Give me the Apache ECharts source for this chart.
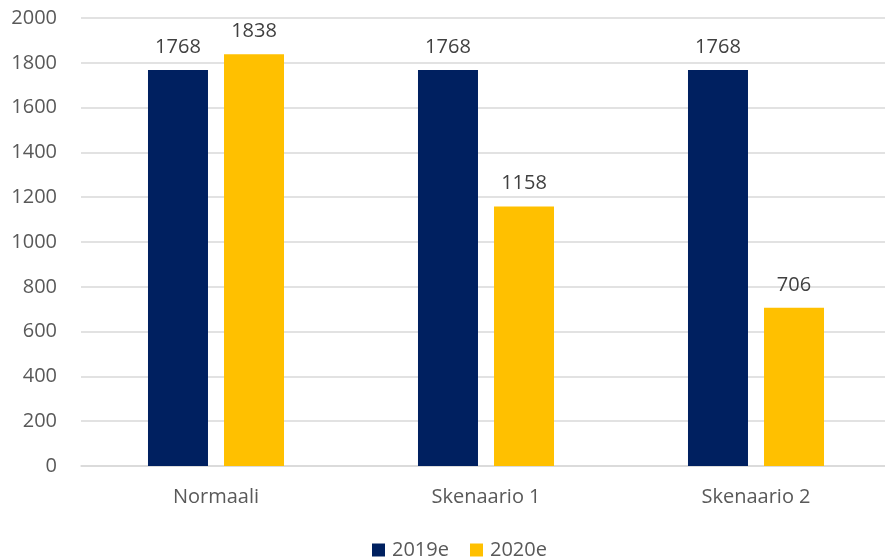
<!DOCTYPE html>
<html><head><meta charset="utf-8">
<script src="https://cdn.jsdelivr.net/npm/echarts@6/dist/echarts.min.js"></script>
<style>html,body{margin:0;padding:0;background:#fff;overflow:hidden}#c{width:885px;height:558px}</style>
</head><body><div id="c"></div>
<script>
const categories = ['Normaali', 'Skenaario 1', 'Skenaario 2'];
const s2019 = [1768, 1768, 1768];
const s2020 = [1838, 1158, 706];
const seriesNames = ['2019e', '2020e'];
const font = '"Open Sans", sans-serif';
const chart = echarts.init(document.getElementById('c'));
chart.setOption({
  animation: false,
  textStyle: { fontFamily: font },
  grid: { left: 81, width: 810, top: 18, height: 448, containLabel: false, outerBoundsMode: 'none' },
  legend: {
    top: 540, left: 372, padding: 0, itemWidth: 13, itemHeight: 13, itemGap: 21,
    icon: 'rect',
    textStyle: { color: '#595959', fontSize: 20, lineHeight: 20, fontFamily: font, padding: [0, 0, 0, 2] },
    data: seriesNames
  },
  xAxis: {
    type: 'category', data: categories,
    axisLine: { show: true, lineStyle: { color: '#d9d9d9', width: 1.5 } },
    axisTick: { show: false },
    axisLabel: { color: '#595959', fontSize: 20, margin: 21, fontFamily: font }
  },
  yAxis: {
    type: 'value', min: 0, max: 2000, interval: 200,
    axisLine: { show: false }, axisTick: { show: false },
    axisLabel: { color: '#595959', fontSize: 20, margin: 24, fontFamily: font, formatter: v => String(v) },
    splitLine: { lineStyle: { color: '#d9d9d9', width: 1.5 } }
  },
  series: [
    { name: seriesNames[0], type: 'bar', data: s2019, barWidth: 60, barGap: '26.7%',
      itemStyle: { color: '#002060' },
      label: { show: true, position: 'top', distance: 13, color: '#404040', fontSize: 20, fontFamily: font } },
    { name: seriesNames[1], type: 'bar', data: s2020, barWidth: 60,
      itemStyle: { color: '#FFC000' },
      label: { show: true, position: 'top', distance: 13, color: '#404040', fontSize: 20, fontFamily: font } }
  ]
});
</script></body></html>
